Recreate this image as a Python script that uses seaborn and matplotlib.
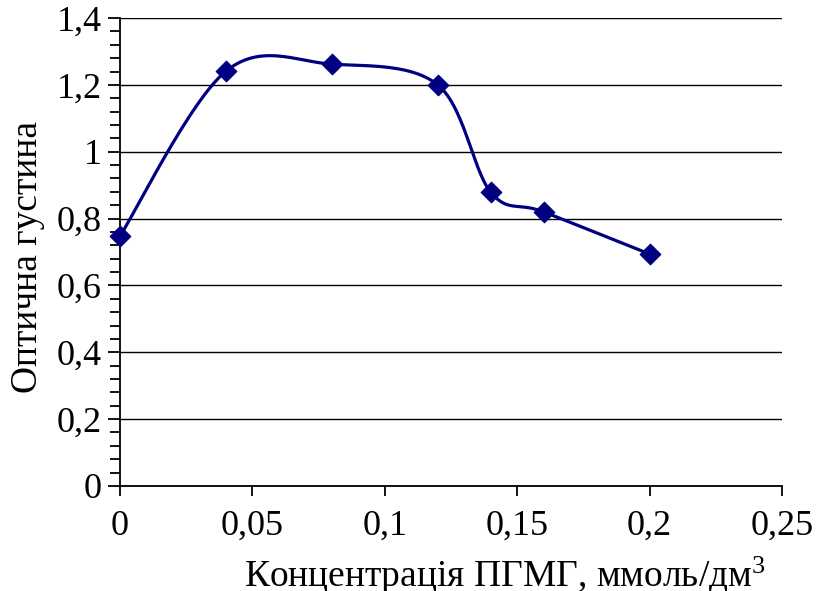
import numpy as np
import pandas as pd
import seaborn as sns
import matplotlib
matplotlib.use("Agg")
import matplotlib.pyplot as plt
from matplotlib.ticker import FuncFormatter, MultipleLocator

# data
conc = [0, 0.04, 0.08, 0.12, 0.14, 0.16, 0.2]
density = [0.748, 1.241, 1.262, 1.200, 0.879, 0.820, 0.694]

sns.set_style("white")
plt.rcParams['font.family'] = ['Liberation Serif', 'DejaVu Serif']
plt.rcParams['mathtext.fontset'] = 'custom'
plt.rcParams['mathtext.rm'] = 'Liberation Serif'
plt.rcParams['mathtext.it'] = 'Liberation Serif'
for k in ['text.color', 'axes.labelcolor', 'xtick.color', 'ytick.color']:
    plt.rcParams[k] = 'black'

df = pd.DataFrame({'conc': conc, 'density': density})


# excel-like smoothed line (catmull-rom through the points)
def smooth(xs, ys, n=30):
    p = np.column_stack([xs, ys])
    p = np.vstack([p[0], p, p[-1]])
    out = []
    for i in range(1, len(p) - 2):
        p0, p1, p2, p3 = p[i - 1], p[i], p[i + 1], p[i + 2]
        c1 = p1 + (p2 - p0) / 6
        c2 = p2 - (p3 - p1) / 6
        t = np.linspace(0, 1, n)[:, None]
        seg = (1 - t) ** 3 * p1 + 3 * (1 - t) ** 2 * t * c1 + 3 * (1 - t) * t ** 2 * c2 + t ** 3 * p2
        out.append(seg)
    out = np.vstack(out)
    return out[:, 0], out[:, 1]


sx, sy = smooth(df.conc.values, df.density.values)
curve = pd.DataFrame({'x': sx, 'y': sy})

fig = plt.figure(figsize=(8.29, 5.91), dpi=100)
ax = fig.add_axes([0.1448, 0.1777, 0.7985, 0.7918])

ax.set_xlim(0, 0.25)
ax.set_ylim(0, 1.4)
ax.yaxis.set_major_locator(MultipleLocator(0.2))
ax.yaxis.set_minor_locator(MultipleLocator(0.04))
ax.xaxis.set_major_locator(MultipleLocator(0.05))
ax.grid(axis='y', color='black', linewidth=1)
ax.set_axisbelow(True)

sns.lineplot(data=curve, x='x', y='y', sort=False, color='#000080', linewidth=2.3, ax=ax)
sns.scatterplot(data=df, x='conc', y='density', marker='D', s=110, color='#000080',
                edgecolor='#000080', zorder=5, ax=ax, clip_on=False)

fmt = FuncFormatter(lambda v, pos: ('%g' % round(v, 3)).replace('.', ','))
ax.xaxis.set_major_formatter(fmt)
ax.yaxis.set_major_formatter(fmt)

for s in ['top', 'right']:
    ax.spines[s].set_visible(False)
for s in ['left', 'bottom']:
    ax.spines[s].set_color('black')
    ax.spines[s].set_linewidth(1.3)

ax.tick_params(axis='y', which='major', direction='out', length=9, width=1.3, labelsize=26, pad=4, left=True)
ax.tick_params(axis='y', which='minor', direction='out', length=7, width=1.3, left=True)
ax.tick_params(axis='x', which='major', direction='out', length=7, width=1.3, labelsize=26, pad=10, bottom=True)

ax.set_xlabel('Концентрація ПГМГ, ммоль/дм$^{3}$', fontsize=27, labelpad=4)
ax.xaxis.set_label_coords(0.582, -0.147)
ax.set_ylabel('Оптична густина', fontsize=27, labelpad=10)
ax.yaxis.set_label_coords(-0.114, 0.49)

fig.savefig('out.png', dpi=100)
